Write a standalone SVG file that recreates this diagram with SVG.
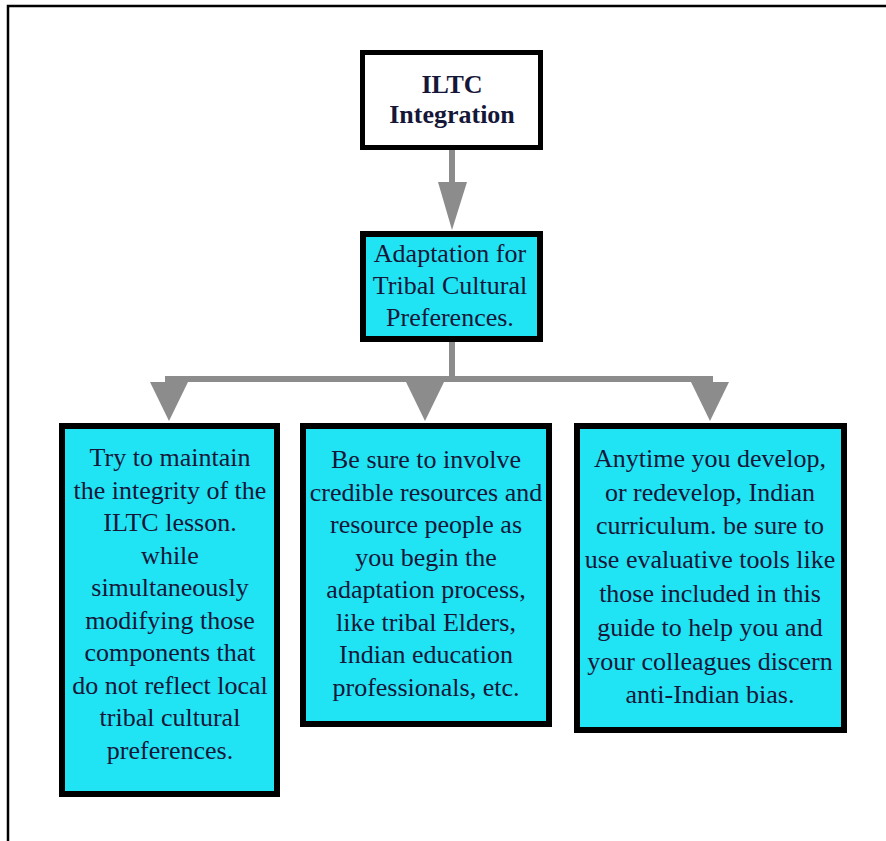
<svg xmlns="http://www.w3.org/2000/svg" width="886" height="841" viewBox="0 0 886 841">
<style>
.box{fill:#20e3f4;stroke:#000;stroke-width:6}
.t{font-family:"Liberation Serif","Times New Roman",serif;font-size:26px;fill:#161638;text-anchor:middle}
.c{stroke:#8c8c8c;stroke-width:6;fill:none}
.h{fill:#8c8c8c}
</style>
<rect width="886" height="841" fill="#fff"/>
<path d="M8,841 V6 H886" fill="none" stroke="#000" stroke-width="2.5"/>
<g id="connectors">
<line class="c" x1="452" y1="150" x2="452" y2="186"/>
<polygon class="h" points="438,182 467,182 452,230"/>
<line class="c" x1="452" y1="342" x2="452" y2="379"/>
<line class="c" x1="165" y1="379" x2="713" y2="379"/>
<polygon class="h" points="150,382 188,382 169,421"/>
<polygon class="h" points="406,382 444,382 425,421"/>
<polygon class="h" points="691,382 729,382 710,421"/>
</g>
<g id="node-top">
<rect x="362.5" y="52.5" width="178" height="95" fill="#fff" stroke="#000" stroke-width="5"/>
<text class="t" x="452" y="93" font-weight="bold">ILTC</text>
<text class="t" x="452" y="123" font-weight="bold">Integration</text>
</g>
<g id="node-adaptation">
<rect class="box" x="363" y="234" width="177" height="105"/>
<text class="t" x="450" y="262">Adaptation for</text>
<text class="t" x="450" y="294">Tribal Cultural</text>
<text class="t" x="450" y="326">Preferences.</text>
</g>
<g id="node-left">
<rect class="box" x="62" y="426" width="215" height="368"/>
<text class="t" x="170" y="466">Try to maintain</text>
<text class="t" x="170" y="498.5">the integrity of the</text>
<text class="t" x="170" y="531">ILTC lesson.</text>
<text class="t" x="170" y="563.5">while</text>
<text class="t" x="170" y="596">simultaneously</text>
<text class="t" x="170" y="628.5">modifying  those</text>
<text class="t" x="170" y="661">components  that</text>
<text class="t" x="170" y="693.5">do not reflect local</text>
<text class="t" x="170" y="726">tribal cultural</text>
<text class="t" x="170" y="758.5">preferences.</text>
</g>
<g id="node-middle">
<rect class="box" x="303" y="426" width="246" height="298"/>
<text class="t" x="426" y="468">Be sure to involve</text>
<text class="t" x="426" y="500.5">credible resources and</text>
<text class="t" x="426" y="533">resource people as</text>
<text class="t" x="426" y="565.5">you begin the</text>
<text class="t" x="426" y="598">adaptation process,</text>
<text class="t" x="426" y="630.5">like tribal Elders,</text>
<text class="t" x="426" y="663">Indian education</text>
<text class="t" x="426" y="695.5">professionals, etc.</text>
</g>
<g id="node-right">
<rect class="box" x="577" y="426" width="267" height="304"/>
<text class="t" x="710" y="467">Anytime you develop,</text>
<text class="t" x="710" y="500.5">or redevelop, Indian</text>
<text class="t" x="710" y="534">curriculum. be sure to</text>
<text class="t" x="710" y="568">use evaluative tools like</text>
<text class="t" x="710" y="602">those included in this</text>
<text class="t" x="710" y="636">guide to help you and</text>
<text class="t" x="710" y="669.5">your colleagues discern</text>
<text class="t" x="710" y="703">anti-Indian bias.</text>
</g>
</svg>
